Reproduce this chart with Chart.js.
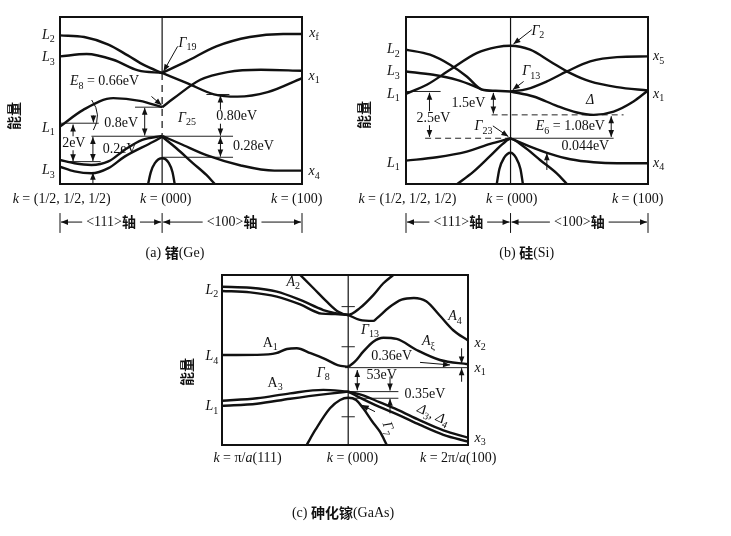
<!DOCTYPE html>
<html>
<head>
<meta charset="utf-8">
<script src="https://cdn.jsdelivr.net/npm/chart.js@4.4.1/dist/chart.umd.min.js"></script>
<style>
  body { margin: 0; background: #fff; width: 731px; height: 536px; overflow: hidden; position: relative; }
  canvas { position: absolute; }
</style>
</head>
<body>
<canvas id="ge" width="335" height="270" style="left:0;top:0"></canvas>
<canvas id="si" width="396" height="270" style="left:335px;top:0"></canvas>
<canvas id="gaas" width="340" height="276" style="left:170px;top:260px"></canvas>
<script>
// all values are in frame units: x 0..100 (left edge -> right edge), y 0..100 (bottom -> top)

// ---- (a) Ge ----
const geBands = [
  [[0,89],[10,88],[20,83.5],[28,77],[35,71],[42.2,66.5]],
  [[0,76.4],[11,77.8],[22,74.4],[32.3,68],[42.2,66.5]],
  [[42.2,66.5],[52.3,73.4],[64.6,82.4],[78.4,88],[92.2,89.8],[100,89.8]],
  [[42.2,66.5],[52.5,60.4],[63.6,53.7],[73.3,52.3],[85.8,55],[100,63.4]],
  [[0,34.4],[9.6,44.4],[22,51.4],[33,49.8],[42.2,46]],
  [[42.2,46],[47,51.3],[58,62.4],[69.2,67],[83,68.4],[100,67.8]],
  [[0,14.4],[6,12.4],[13,11.4],[20,13.5],[26.7,20.4],[34,26.4],[42.2,28.8]],
  [[42.2,28.8],[49.7,24.1],[60.8,17.1],[74.7,11.1],[88.6,8],[100,8]],
  [[0,10.4],[6,7.6],[13,6.4],[20,9.5],[26.7,16.4],[38.5,25.3],[42.2,28.3]],
  [[42.2,28.3],[48.1,21.4],[55,12.4],[60.5,5.4],[64,0]],
  [[36.4,0],[37.5,7],[39.2,12.5],[42.2,15.4],[45,12.5],[46.5,7],[47.4,0]]
];
const geGuides = [[31,42.2,46],[13,71.5,28.6],[42.2,71.5,16],[0,16,36.4],[3,16.8,13.4],[60.5,70,53.6]];
const geDashed = [];
const geArrows = [
  [5.4,35.6,5.4,13.6,1],[13.6,28.2,13.6,13.8,1],[13.6,0,13.6,6.8,0],[35,45.6,35,29,1],
  [66.3,53,66.3,29,1],[66.3,28.2,66.3,16.4,1],[37.8,52.4,42,47.2,0],[48.6,82.4,42.8,67.5,0],[13.8,41,13.8,36.8,0]
];
const geCurls = [[13.1,50.3,17.5,41.5,13.8,32.3]];
const geLabels = [
  [-4.8,89.2,'*L*_2_'],[-4.8,75.8,'*L*_3_'],[-4.8,33.3,'*L*_1_'],[-4.8,8,'*L*_3_'],
  [105,90.2,'*x*_f_'],[105,64.7,'*x*_1_'],[105,7.4,'*x*_4_'],
  [52.7,84.4,'*Γ*_19_'],[4.1,61.3,'*E*_8_ = 0.66eV','l'],[52.5,39.3,'*Γ*_25_'],
  [25.3,36.3,'0.8eV'],[5.7,24.4,'2eV','c',14,0,1],[24.7,20.8,'0.2eV'],
  [73,40.3,'0.80eV','c',14,0,1],[79.9,22.3,'0.28eV'],
  [-19,40.7,'#能量#','c',14,-90],
  [0.7,-9,'*k* = (1/2, 1/2, 1/2)'],[43.7,-9,'*k* = (000)'],[97.8,-9,'*k* = (100)'],
  [47.5,-41.3,'(a) #锗#(Ge)']
];
const geCenter = [42.2, [[100,66.5,0],[66.5,29,1],[29,0,0]]];
const geAxis = ['<111>#轴#', '<100>#轴#'];

// ---- (b) Si ----
const siBands = [
  [[0,80.4],[9.9,77.4],[18.2,71.4],[25.1,64.4],[31.3,56.6],[37,55.8],[43.2,55.4]],
  [[0,67.4],[11.3,65.4],[21,62.4],[27.9,58.8],[31.3,56.6]],
  [[43.2,55.4],[52.7,52.4],[62.3,46.8],[70.6,42.8],[77.5,41.4],[85.8,43.4],[94,49.4],[100,56]],
  [[0,54],[8.6,59.4],[18.2,68.4],[29.2,78.4],[37.5,82],[43.2,82.8],[51.3,80.4],[59.6,73.4],[67.9,66.4],[76.1,61.4],[87.2,58],[100,56]],
  [[43.2,55.4],[49.9,56.8],[58.2,61.4],[66.5,67.4],[76.1,73.4],[87.2,76],[100,76.4]],
  [[0,14],[12.7,16],[25.1,19.4],[34.8,24],[43.2,27.4]],
  [[43.2,27.4],[51.3,22.4],[59.6,18],[67.9,14.8],[77.5,13],[87.2,12.4],[100,12.4]],
  [[21.2,0],[27.9,7.4],[34.8,16.8],[40.3,24.4],[43.2,27],[48.6,22.4],[55.4,14.4],[62.3,6.4],[66.5,0]],
  [[37.5,0],[38.6,9],[40.5,15.6],[43.2,18.7],[45.5,15.6],[47.3,9],[48.3,0]]
];
const siGuides = [[0,14.3,55.4],[43.2,85.8,27.4]];
const siDashed = [[35.4,89.9,41.4],[7.9,43.2,27.4]];
const siArrows = [
  [9.7,54.6,9.7,28.2,1],[36.1,54.6,36.1,42.2,1],[84.8,40.6,84.8,28.2,1],[58.2,8.4,58.2,18.4,0],
  [52,92.4,44.4,83.8,0],[48.6,61.4,44.1,56.4,0],[35.9,34.8,42.3,28.4,0]
];
const siLabels = [
  [-5.2,80.4,'*L*_2_'],[-5.2,67.4,'*L*_3_'],[-5.2,54,'*L*_1_'],[-5.2,12.4,'*L*_1_'],
  [104.4,76.4,'*x*_5_'],[104.4,54,'*x*_1_'],[104.4,12.4,'*x*_4_'],
  [54.5,91.4,'*Γ*_2_'],[51.8,67.4,'*Γ*_13_'],[76.1,50.4,'*Δ*'],[25.8,48.4,'1.5eV'],
  [11.3,39.4,'2.5eV','c',14,0,1],[32,34.4,'*Γ*_23_'],[67.9,34.4,'*E*_6_ = 1.08eV'],[74.1,22.4,'0.044eV'],
  [-17.6,41.3,'#能量#','c',14,-90],
  [0.6,-9,'*k* = (1/2, 1/2, 1/2)'],[43.7,-9,'*k* = (000)'],[95.7,-9,'*k* = (100)'],
  [49.9,-41.3,'(b) #硅#(Si)']
];
const siCenter = [43.2, [[100,0,0]]];
const siAxis = ['<111>#轴#', '<100>#轴#'];

// ---- (c) GaAs ----
const gaBands = [
  [[0,93.1],[11.5,92.5],[22.3,90.2],[31.8,85.3],[41.2,79.4],[46,77.6],[51.3,76.5]],
  [[0,90.6],[11.5,89.8],[22.3,87.3],[31.8,82.7],[40.5,77.3],[46,77],[51.3,76.5]],
  [[31.8,100],[37.2,92.2],[42.6,84.3],[47.3,78.4],[51.3,76.5],[56,80.5],[61.5,88.2],[65.5,95],[69.6,100]],
  [[51.3,76.5],[56,73.6],[61.5,73],[62.9,74.5],[68,81],[73,85.5],[78,86.5],[83,84.5],[88.6,76],[94,67.5],[100,61.5]],
  [[0,52.9],[14,53],[22,54],[26.4,56.5],[30.4,56.9],[36,54],[42,50.5],[47,47],[51.3,46]],
  [[51.3,46],[54,49],[57.4,54.9],[61.5,60.8],[65.6,63.1],[71,62.4],[79.1,55.9],[88.6,50],[100,47.5]],
  [[0,26],[14.2,27.5],[27.7,30.4],[41.2,32.4],[51.3,31.4]],
  [[0,23],[14.2,24.3],[27.7,27.2],[43.9,30.2],[51.3,31.4]],
  [[51.3,31.4],[57.4,29.2],[64,25.2],[71,21],[80.5,14.5],[90,8.6],[100,4.3]],
  [[51.3,31.4],[55,28.6],[64,22.4],[71,18.2],[80.5,11.8],[90,6],[100,2]],
  [[34.4,0],[38,9],[43.9,21.6],[48,26.5],[51.3,27.8],[54.5,26.5],[57.4,21.6],[61,14],[64.2,7.8],[67,0]]
];
const gaGuides = [[50,100,45.5],[51.3,71.7,31.4],[51.3,71.7,27.5],[48.6,54,81.4],[48.6,54,57.8],[48.6,54,16.6]];
const gaDashed = [];
const gaArrows = [
  [55,44.1,55,32.2,1],[68.3,40.2,68.3,32,0],[68.3,18.6,68.3,27.2,0],[97.4,56.9,97.4,47.9,0],
  [97.4,37.2,97.4,45.2,0],[80.5,48.6,92.7,47.1,0],[62.2,19.6,56.8,23.5,0]
];
const gaLabels = [
  [-4.1,91.2,'*L*_2_'],[-4.1,52,'*L*_4_'],[-4.1,22.6,'*L*_1_'],
  [104.9,59.8,'*x*_2_'],[104.9,45.1,'*x*_1_'],[104.9,3.9,'*x*_3_'],
  [29,95.7,'*A*_2_'],[19.6,59.8,'A_1_'],[21.6,36.3,'A_3_'],[94.7,75.5,'*A*_4_'],[83.9,60.8,'*A*_ξ_'],
  [60.2,67.6,'*Γ*_13_'],[41.2,42.2,'*Γ*_8_'],[69,51.9,'0.36eV'],[64.9,41.2,'53eV'],[82.5,29.8,'0.35eV'],
  [85.9,17.6,'*Δ*_3_, *Δ*_4_','c',14,25],[67.6,9.8,'*Γ*_7_','c',14,70],
  [-14.2,42.9,'#能量#','c',14,-90],
  [10.4,-7.8,'*k* = π/*a*(111)'],[53,-7.8,'*k* = (000)'],[96,-7.8,'*k* = 2π/*a*(100)'],
  [49.2,-40,'(c) #砷化镓#(GaAs)']
];
const gaCenter = [51.3, [[100,0,0]]];

const SERIF = '"Liberation Serif","Times New Roman",serif';

function runsOf(str) {
  const runs = [];
  let it = false, sub = false, cjk = false, buf = '';
  for (const ch of str) {
    if (ch === '*' || ch === '_' || ch === '#') {
      if (buf) runs.push({ t: buf, it, sub, cjk });
      buf = '';
      if (ch === '*') it = !it;
      else if (ch === '_') sub = !sub;
      else cjk = !cjk;
    } else buf += ch;
  }
  if (buf) runs.push({ t: buf, it, sub, cjk });
  return runs;
}

function fontOf(r, size) {
  if (r.cjk) return `bold ${size}px "Noto Sans CJK SC",sans-serif`;
  return `${r.it ? 'italic ' : ''}${r.sub ? Math.round(size * 0.68) : size}px ${SERIF}`;
}

function drawRich(ctx, str, x, y, align, size, rot, bg) {
  const runs = runsOf(str);
  let w = 0;
  runs.forEach(r => { ctx.font = fontOf(r, size); r.w = ctx.measureText(r.t).width; w += r.w; });
  ctx.save();
  ctx.translate(x, y);
  if (rot) ctx.rotate(rot * Math.PI / 180);
  let sx = align === 'l' ? 0 : align === 'r' ? -w : -w / 2;
  if (bg) { ctx.fillStyle = '#fff'; ctx.fillRect(sx - 1, -size * 0.5, w + 2, size); }
  ctx.fillStyle = '#111';
  ctx.textBaseline = 'middle';
  runs.forEach(r => {
    ctx.font = fontOf(r, size);
    ctx.fillText(r.t, sx, r.sub ? size * 0.32 : 0);
    sx += r.w;
  });
  ctx.restore();
}

function arrowHead(ctx, x1, y1, x2, y2) {
  const a = Math.atan2(y2 - y1, x2 - x1), L = 7, W = 2.8;
  ctx.beginPath();
  ctx.moveTo(x2, y2);
  ctx.lineTo(x2 - L * Math.cos(a) + W * Math.sin(a), y2 - L * Math.sin(a) - W * Math.cos(a));
  ctx.lineTo(x2 - L * Math.cos(a) - W * Math.sin(a), y2 - L * Math.sin(a) + W * Math.cos(a));
  ctx.closePath();
  ctx.fill();
}

function arrow(ctx, x1, y1, x2, y2, both) {
  ctx.beginPath(); ctx.moveTo(x1, y1); ctx.lineTo(x2, y2); ctx.stroke();
  arrowHead(ctx, x1, y1, x2, y2);
  if (both) arrowHead(ctx, x2, y2, x1, y1);
}

function decor(p) {
  return {
    id: 'decor',
    beforeDatasetsDraw(chart) {
      const ctx = chart.ctx, xs = chart.scales.x, ys = chart.scales.y;
      const cx = xs.getPixelForValue(p.center[0]);
      ctx.save();
      ctx.strokeStyle = '#111';
      ctx.lineWidth = 1.2;
      p.center[1].forEach(s => {
        ctx.setLineDash(s[2] ? [7, 5] : []);
        ctx.beginPath();
        ctx.moveTo(cx, ys.getPixelForValue(s[0]));
        ctx.lineTo(cx, ys.getPixelForValue(s[1]));
        ctx.stroke();
      });
      ctx.restore();
    },
    afterDraw(chart) {
      const ctx = chart.ctx, xs = chart.scales.x, ys = chart.scales.y, a = chart.chartArea;
      const X = v => xs.getPixelForValue(v), Y = v => ys.getPixelForValue(v);
      ctx.save();
      ctx.strokeStyle = '#111';
      ctx.fillStyle = '#111';
      ctx.lineWidth = 2;
      ctx.strokeRect(a.left, a.top, a.right - a.left, a.bottom - a.top);
      ctx.lineWidth = 1;
      p.arrows.forEach(r => arrow(ctx, X(r[0]), Y(r[1]), X(r[2]), Y(r[3]), r[4]));
      (p.curls || []).forEach(c => {
        ctx.beginPath();
        ctx.moveTo(X(c[0]), Y(c[1]));
        ctx.quadraticCurveTo(X(c[2]), Y(c[3]), X(c[4]), Y(c[5]));
        ctx.stroke();
      });
      if (p.axis) {
        const ticks = [0, p.center[0], 100], yc = Y(-22.8);
        ticks.forEach(t => {
          ctx.beginPath(); ctx.moveTo(X(t), Y(-17.4)); ctx.lineTo(X(t), Y(-29.3)); ctx.stroke();
        });
        p.axis.forEach((txt, i) => {
          const x0 = X(ticks[i]), x1 = X(ticks[i + 1]), mid = (x0 + x1) / 2;
          let w = 0;
          runsOf(txt).forEach(r => { ctx.font = fontOf(r, 14); w += ctx.measureText(r.t).width; });
          arrow(ctx, mid - w / 2 - 4, yc, x0 + 1, yc, 0);
          arrow(ctx, mid + w / 2 + 4, yc, x1 - 1, yc, 0);
          drawRich(ctx, txt, mid, yc, 'c', 14, 0, 0);
        });
      }
      p.labels.forEach(l => drawRich(ctx, l[2], X(l[0]), Y(l[1]), l[3] || 'c', l[4] || 14, l[5] || 0, l[6] || 0));
      ctx.restore();
    }
  };
}

function makePanel(id, pad, p) {
  const sets = [];
  p.bands.forEach(b => sets.push({
    data: b.map(q => ({ x: q[0], y: q[1] })),
    borderColor: '#111', borderWidth: 2.4, pointRadius: 0,
    cubicInterpolationMode: 'monotone', fill: false
  }));
  p.guides.forEach(g => sets.push({
    data: [{ x: g[0], y: g[2] }, { x: g[1], y: g[2] }],
    borderColor: '#222', borderWidth: 1, pointRadius: 0, fill: false
  }));
  p.dashed.forEach(g => sets.push({
    data: [{ x: g[0], y: g[2] }, { x: g[1], y: g[2] }],
    borderColor: '#222', borderWidth: 1, borderDash: [6, 4], pointRadius: 0, fill: false
  }));
  return new Chart(document.getElementById(id), {
    type: 'line',
    data: { datasets: sets },
    options: {
      responsive: false,
      animation: false,
      devicePixelRatio: 1,
      layout: { padding: pad },
      plugins: { legend: { display: false }, tooltip: { enabled: false } },
      scales: {
        x: { type: 'linear', min: 0, max: 100, display: false },
        y: { type: 'linear', min: 0, max: 100, display: false }
      }
    },
    plugins: [decor(p)]
  });
}

makePanel('ge', { left: 60, top: 17, right: 33, bottom: 86 },
  { bands: geBands, guides: geGuides, dashed: geDashed, arrows: geArrows, curls: geCurls, labels: geLabels, center: geCenter, axis: geAxis });
makePanel('si', { left: 71, top: 17, right: 83, bottom: 86 },
  { bands: siBands, guides: siGuides, dashed: siDashed, arrows: siArrows, labels: siLabels, center: siCenter, axis: siAxis });
makePanel('gaas', { left: 52, top: 15, right: 42, bottom: 91 },
  { bands: gaBands, guides: gaGuides, dashed: gaDashed, arrows: gaArrows, labels: gaLabels, center: gaCenter });
</script>
</body>
</html>
